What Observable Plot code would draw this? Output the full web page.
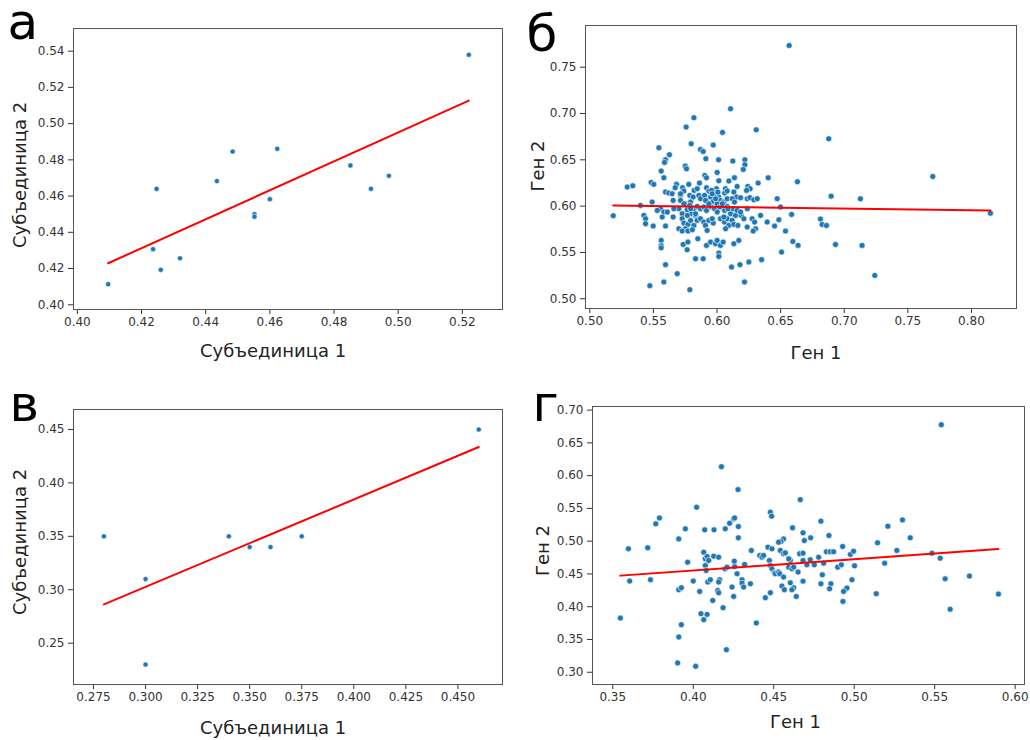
<!DOCTYPE html>
<html>
<head>
<meta charset="utf-8">
<script src="https://cdn.jsdelivr.net/npm/d3@7"></script>
<script src="https://cdn.jsdelivr.net/npm/@observablehq/plot@0.6"></script>
<style>
  html, body { margin: 0; padding: 0; background: #fff; }
  #root { position: relative; width: 1030px; height: 740px; background: #fff; overflow: hidden; }
  .panel { position: absolute; width: 515px; height: 370px; }
  .panel svg { overflow: visible; }
</style>
</head>
<body>
<div id="root"></div>
<script>
// ---------- Panel а : Субъединица 1 vs Субъединица 2 ----------
const pointsA = [
  [0.4096,0.4114],[0.4236,0.4307],[0.4247,0.4640],[0.4260,0.4193],[0.4320,0.4257],
  [0.4435,0.4683],[0.4484,0.4846],[0.4552,0.4500],[0.4552,0.4486],[0.4600,0.4583],
  [0.4623,0.4861],[0.4851,0.4769],[0.4915,0.4640],[0.4971,0.4712],[0.5220,0.5380]
];
const ticksAX = [0.40,0.42,0.44,0.46,0.48,0.50,0.52];
const ticksAY = [0.40,0.42,0.44,0.46,0.48,0.50,0.52,0.54];

// ---------- Panel б : Ген 1 vs Ген 2 ----------
const pointsB = [
  [0.6567,0.7734],[0.6878,0.6727],[0.7696,0.632],[0.6897,0.6108],[0.7127,0.6079],[0.8149,0.5924],
  [0.6813,0.586],[0.6826,0.5802],[0.686,0.5791],[0.6931,0.5586],[0.714,0.5576],[0.724,0.5252],
  [0.6632,0.6263],[0.6596,0.5619],[0.6637,0.5576],
  [0.6106,0.7051],[0.5818,0.6954],[0.5757,0.6853],[0.6043,0.6796],[0.6308,0.6824],[0.5797,0.6673],
  [0.597,0.6659],[0.5543,0.663],[0.587,0.6612],[0.5891,0.659],[0.5912,0.6512],
  [0.5626,0.6555],[0.5595,0.6501],[0.5587,0.6472],[0.6012,0.65],[0.6124,0.6486],[0.6219,0.65],
  [0.6219,0.6447],[0.6206,0.6396],[0.575,0.6432],[0.576,0.6403],[0.5561,0.6378],[0.6001,0.6364],
  [0.5904,0.6332],[0.5917,0.6306],[0.5582,0.6306],[0.6137,0.6306],[0.6402,0.6306],[0.6093,0.6271],
  [0.6014,0.6274],[0.5482,0.6256],[0.5503,0.6235],[0.5294,0.6206],[0.5338,0.622],[0.5681,0.6235],
  [0.5671,0.6199],[0.5729,0.6199],[0.5778,0.6235],[0.5862,0.6249],[0.6158,0.6213],[0.6242,0.6213],
  [0.626,0.6188],[0.6323,0.6249],[0.5739,0.6163],[0.582,0.617],[0.5844,0.6188],[0.5917,0.6199],
  [0.5936,0.6163],[0.5996,0.6188],[0.5975,0.6152],[0.5957,0.617],[0.6067,0.6188],[0.606,0.6141],
  [0.608,0.6163],[0.6132,0.6152],[0.6153,0.6098],[0.6232,0.617],[0.5595,0.6152],[0.5621,0.6141],
  [0.5647,0.6134],[0.5713,0.6116],[0.5786,0.6116],[0.5812,0.6098],[0.5857,0.6116],[0.587,0.608],
  [0.5902,0.6116],[0.591,0.6062],[0.5949,0.6098],[0.5988,0.6116],[0.6014,0.6098],[0.597,0.6051],
  [0.6027,0.6062],[0.6054,0.6044],[0.608,0.608],[0.6119,0.608],[0.6137,0.6044],[0.6185,0.6091],
  [0.6237,0.608],[0.6258,0.6091],[0.6289,0.6069],[0.6316,0.608],[0.6473,0.608],[0.6499,0.599],
  [0.5713,0.6062],[0.5752,0.6026],[0.5792,0.6044],[0.5655,0.6062],[0.549,0.6044],[0.5398,0.6008],
  [0.5556,0.5972],[0.5582,0.5936],[0.553,0.5954],[0.5184,0.5896],[0.5425,0.59],[0.5438,0.5864],
  [0.5438,0.581],[0.5498,0.5785],[0.5595,0.5785],[0.5655,0.5882],[0.5569,0.5882],[0.57,0.5972],
  [0.5726,0.5918],[0.5765,0.5961],[0.5786,0.6008],[0.5818,0.5972],[0.5844,0.5997],[0.587,0.5972],
  [0.5797,0.5918],[0.583,0.59],[0.5896,0.599],[0.5917,0.5954],[0.5949,0.5997],[0.598,0.5972],
  [0.6001,0.6026],[0.6022,0.599],[0.6059,0.5954],[0.608,0.5997],[0.6106,0.5918],[0.6127,0.5972],
  [0.6145,0.59],[0.6158,0.5954],[0.5726,0.5864],[0.5739,0.5817],[0.5771,0.5803],[0.5792,0.5846],
  [0.5752,0.5756],[0.5844,0.5846],[0.587,0.5864],[0.5896,0.5828],[0.5818,0.5792],[0.5936,0.5846],
  [0.597,0.5817],[0.5909,0.5792],[0.5922,0.5738],[0.6027,0.5864],[0.6059,0.5828],[0.608,0.5864],
  [0.6093,0.5792],[0.6067,0.5756],[0.6119,0.5846],[0.6132,0.5803],[0.619,0.59],[0.6211,0.5864],
  [0.6276,0.5864],[0.6295,0.5828],[0.6237,0.5774],[0.6303,0.5756],[0.6284,0.5731],[0.6394,0.5828],
  [0.6452,0.5785],[0.6486,0.5853],[0.6538,0.5731],[0.6586,0.5911],[0.6342,0.59],[0.6164,0.5792],
  [0.57,0.5756],[0.5726,0.5731],[0.5771,0.5731],[0.5806,0.5745],[0.5849,0.5648],[0.5734,0.5587],
  [0.5771,0.5612],[0.5765,0.5529],[0.5561,0.563],[0.5561,0.5573],[0.5561,0.555],[0.5917,0.5576],
  [0.5949,0.5612],[0.5988,0.5594],[0.6001,0.563],[0.6027,0.5576],[0.6048,0.5612],[0.6014,0.5493],
  [0.6014,0.5457],[0.5831,0.5432],[0.5891,0.5432],[0.6132,0.5594],[0.6171,0.563],[0.635,0.5422],
  [0.6507,0.5504],[0.6114,0.5342],[0.618,0.5368],[0.625,0.5396],[0.5595,0.5368],[0.5687,0.5271],
  [0.5582,0.5181],[0.5472,0.5141],[0.5786,0.5098],[0.6216,0.5181],
  [0.5962,0.6133],[0.5989,0.6079],[0.6007,0.6151],[0.5936,0.6025],[0.6041,0.6025],[0.6086,0.5972],
  [0.5792,0.5972],[0.5831,0.5918],[0.5766,0.59],[0.6002,0.5936],[0.6054,0.5882],[0.5962,0.5864],
  [0.574,0.6025],[0.5661,0.5972],[0.5609,0.5936],[0.6185,0.5936],[0.6238,0.5972],[0.5713,0.6133]
];
const ticksBX = [0.50,0.55,0.60,0.65,0.70,0.75,0.80];
const ticksBY = [0.50,0.55,0.60,0.65,0.70,0.75];

// ---------- Panel в : Субъединица 1 vs Субъединица 2 ----------
const pointsV = [
  [0.280,0.35],[0.300,0.31],[0.300,0.23],[0.340,0.35],[0.350,0.34],[0.360,0.34],[0.375,0.35],[0.460,0.45]
];
const ticksVX = [0.275,0.300,0.325,0.350,0.375,0.400,0.425,0.450];
const ticksVY = [0.25,0.30,0.35,0.40,0.45];

// ---------- Panel г : Ген 1 vs Ген 2 ----------
const pointsG = [
  [0.4175,0.6137],[0.4278,0.5787],[0.4665,0.5634],[0.4021,0.5518],[0.379,0.5355],[0.3767,0.5264],
  [0.3951,0.5188],[0.391,0.5035],[0.4071,0.5173],[0.4129,0.5173],[0.4199,0.5188],[0.4226,0.5274],
  [0.4251,0.534],[0.4257,0.5355],[0.428,0.5223],[0.428,0.5051],[0.4479,0.5442],[0.4487,0.5381],
  [0.4617,0.5203],[0.4561,0.5035],[0.4545,0.4995],[0.453,0.4985],[0.3597,0.4883],[0.3717,0.4898],
  [0.4464,0.4909],[0.4489,0.4883],
  [0.3605,0.4391],[0.3734,0.4411],[0.3547,0.3827],[0.3965,0.468],[0.391,0.4259],[0.3926,0.4289],
  [0.4,0.4391],[0.404,0.4233],[0.4065,0.4832],[0.4075,0.4731],[0.4086,0.4766],[0.4096,0.4705],
  [0.4075,0.4629],[0.408,0.4553],[0.409,0.4376],[0.4106,0.4411],[0.4127,0.4771],[0.4158,0.4756],
  [0.4164,0.4411],[0.4158,0.4376],[0.4121,0.4096],[0.4048,0.3893],[0.4065,0.3802],[0.4086,0.3883],
  [0.3926,0.3726],[0.391,0.3538],[0.3903,0.3142],[0.4015,0.3091],[0.4206,0.3345],[0.4185,0.3985],
  [0.4152,0.4249],[0.4158,0.4213],[0.4197,0.4579],[0.421,0.4604],[0.4241,0.43],[0.4251,0.4157],
  [0.4257,0.4614],[0.4255,0.4695],[0.4272,0.4503],[0.4303,0.4411],[0.4303,0.436],[0.4313,0.43],
  [0.4319,0.4645],[0.4355,0.435],[0.4392,0.3751],[0.4361,0.4858],[0.4413,0.4782],[0.4427,0.4756],
  [0.4437,0.4782],[0.4448,0.4137],[0.4479,0.4213],[0.4473,0.4705],[0.4479,0.4629],[0.4489,0.4579],
  [0.4504,0.4518],[0.451,0.4503],[0.453,0.4528],[0.4537,0.4503],[0.4541,0.4858],[0.4561,0.4807],
  [0.4572,0.4822],[0.4561,0.4452],[0.4551,0.4315],[0.4566,0.4259],[0.4603,0.4365],[0.4624,0.4289],
  [0.4613,0.4259],[0.464,0.4157],[0.4593,0.4604],[0.4613,0.4579],[0.4624,0.4604],[0.4651,0.4528],
  [0.4603,0.4705],[0.4593,0.4731],[0.4661,0.4807],
  [0.5541,0.6777],[0.4793,0.5305],[0.4682,0.5127],[0.469,0.501],[0.4729,0.5051],[0.4843,0.5086],
  [0.4682,0.4817],[0.4928,0.4919],[0.4827,0.4838],[0.4851,0.4838],[0.4872,0.4838],[0.4779,0.4756],
  [0.4727,0.4716],[0.4706,0.4639],[0.4752,0.4639],[0.4682,0.4705],[0.481,0.4665],[0.4976,0.4797],
  [0.4996,0.4848],[0.5002,0.4624],[0.4897,0.4604],[0.492,0.4639],[0.4802,0.4487],[0.4793,0.435],
  [0.4855,0.435],[0.4847,0.4274],[0.4682,0.439],[0.4986,0.4411],[0.4944,0.4259],[0.4955,0.4284],
  [0.4934,0.4233],[0.493,0.4081],[0.5145,0.4975],[0.5209,0.5228],[0.53,0.5325],[0.5348,0.5051],
  [0.5265,0.4858],[0.5189,0.4665],[0.5137,0.4198],[0.5483,0.4817],[0.5534,0.4741],[0.5565,0.4426],
  [0.5716,0.4467],[0.5596,0.396],[0.5896,0.4193]
];
const ticksGX = [0.35,0.40,0.45,0.50,0.55,0.60];
const ticksGY = [0.30,0.35,0.40,0.45,0.50,0.55,0.60,0.65,0.70];

const labelsSub = ["Субъединица 1", "Субъединица 2"];
const labelsGene = ["Ген 1", "Ген 2"];
const panelLetters = ["а", "б", "в", "г"];

const DOT = "#1f77b4";
const INK = "#333";

function makePanel(cfg) {
  const px = d => d[0], py = d => d[1];
  const plot = Plot.plot({
    width: 515,
    height: 370,
    marginLeft: cfg.m[0], marginTop: cfg.m[1], marginRight: cfg.m[2], marginBottom: cfg.m[3],
    style: {fontFamily: "DejaVu Sans", fontSize: "12px", color: INK, background: "transparent", overflow: "visible"},
    x: {domain: cfg.xd, ticks: cfg.xt, tickFormat: d3.format(cfg.xf), tickSize: 5, tickPadding: 3, label: null},
    y: {domain: cfg.yd, ticks: cfg.yt, tickFormat: d3.format(cfg.yf), tickSize: 5, tickPadding: 4, label: null},
    marks: [
      Plot.frame({stroke: "#555", strokeWidth: 1}),
      Plot.dot(cfg.pts, {x: px, y: py, r: cfg.r, fill: DOT, stroke: "white", strokeWidth: 0.6}),
      Plot.linearRegressionY(cfg.pts, {x: px, y: py, stroke: "red", strokeWidth: 2, ci: 0}),
      Plot.text([cfg.xl], {frameAnchor: "bottom", text: d => d, dx: cfg.xlDx, dy: cfg.xlDy, textAnchor: "middle", lineAnchor: "bottom", fontSize: 18, fill: "#222"}),
      Plot.text([cfg.yl], {frameAnchor: "left", text: d => d, dx: cfg.ylDx, dy: cfg.ylDy, rotate: -90, textAnchor: "middle", lineAnchor: "middle", fontSize: 18, fill: "#222"}),
      Plot.text([cfg.letter], {frameAnchor: "top-left", text: d => d, dx: cfg.lDx, dy: cfg.lDy, textAnchor: "start", lineAnchor: "bottom", fontSize: 50, fill: "#000"})
    ]
  });
  const holder = document.createElement("div");
  holder.className = "panel";
  holder.style.left = cfg.left + "px";
  holder.style.top = cfg.top + "px";
  holder.appendChild(plot);
  document.getElementById("root").appendChild(holder);
}

makePanel({left: 0, top: 0, m: [73, 28, 13, 61], pts: pointsA, r: 2.6,
  xd: [0.3988, 0.5325], yd: [0.3974, 0.5525], xt: ticksAX, yt: ticksAY, xf: ".2f", yf: ".2f",
  xl: labelsSub[0], yl: labelsSub[1], xlDx: -15, xlDy: 47, ylDx: -53, ylDy: 6,
  letter: panelLetters[0], lDx: -66, lDy: 10});

makePanel({left: 515, top: 0, m: [70, 25, 14, 62], pts: pointsB, r: 3,
  xd: [0.4966, 0.8354], yd: [0.4895, 0.795], xt: ticksBX, yt: ticksBY, xf: ".2f", yf: ".2f",
  xl: labelsGene[0], yl: labelsGene[1], xlDx: 15, xlDy: 50, ylDx: -47, ylDy: -1,
  letter: panelLetters[1], lDx: -59, lDy: 25});

makePanel({left: 0, top: 370, m: [73, 39, 13, 56], pts: pointsV, r: 2.6,
  xd: [0.2654, 0.4714], yd: [0.2113, 0.4687], xt: ticksVX, yt: ticksVY, xf: ".3f", yf: ".2f",
  xl: labelsSub[0], yl: labelsSub[1], xlDx: -15, xlDy: 49, ylDx: -53, ylDy: -5,
  letter: panelLetters[2], lDx: -64, lDy: 11});

makePanel({left: 515, top: 370, m: [77, 36, 6, 56], pts: pointsG, r: 3,
  xd: [0.3374, 0.6058], yd: [0.2813, 0.7055], xt: ticksGX, yt: ticksGY, xf: ".2f", yf: ".2f",
  xl: labelsGene[0], yl: labelsGene[1], xlDx: -13, xlDy: 43, ylDx: -49, ylDy: 5,
  letter: panelLetters[3], lDx: -60, lDy: 14});
</script>
</body>
</html>
